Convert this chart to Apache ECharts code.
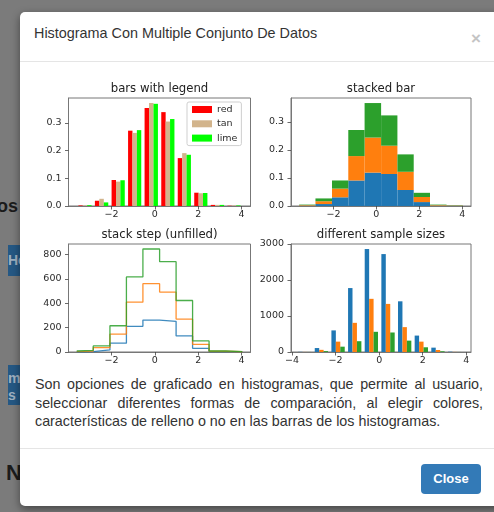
<!DOCTYPE html>
<html>
<head>
<meta charset="utf-8">
<script src="https://cdn.jsdelivr.net/npm/echarts@6/dist/echarts.min.js"></script>
<style>
  html, body { margin: 0; padding: 0; }
  body {
    width: 494px; height: 512px; overflow: hidden; position: relative;
    background: #7b7b7b;
    font-family: "Liberation Sans", Arial, sans-serif;
  }
  .page { position: absolute; }
  .modal {
    position: absolute; left: 20px; top: 12px; width: 490px; height: 494px;
    background: #fff; border-radius: 5px;
    box-shadow: 0 3px 9px rgba(0,0,0,0.45);
  }
  .modal-title {
    position: absolute; left: 34px; top: 24px;
    font-size: 14.4px; line-height: 18px; color: #333;
  }
  .close-x {
    position: absolute; left: 471px; top: 30px;
    font-size: 17px; font-weight: bold; line-height: 18px; color: #c4c4c4;
  }
  .rule { position: absolute; left: 20px; width: 474px; height: 1px; background: #e5e5e5; }
  #fig { position: absolute; left: 20px; top: 62px; width: 474px; height: 306px; }
  .desc {
    position: absolute; left: 35px; top: 375px; width: 448px;
    font-size: 14.3px; line-height: 18.5px; color: #333; text-align: justify;
  }
  .btn {
    position: absolute; left: 421px; top: 464px; width: 60px; height: 30px;
    background: #337ab7; border-radius: 4px; color: #fff;
    font-size: 13px; font-weight: bold; line-height: 30px; text-align: center;
  }
</style>
</head>
<body>
  <!-- page content behind the dimmed overlay -->
  <div class="page" style="left:-22px;top:196px;width:40px;text-align:right;font:bold 18px 'Liberation Sans';color:#1b1b1b;">os</div>
  <div class="page" style="left:8px;top:245px;width:12px;height:31px;background:#255884;overflow:hidden;">
    <div style="font:bold 14px 'Liberation Sans';color:#9fb0c0;margin-top:7px;white-space:nowrap;">Ho</div>
  </div>
  <div class="page" style="left:8px;top:365px;width:12px;height:40px;background:#255884;overflow:hidden;">
    <div style="font:bold 14px 'Liberation Sans';color:#9fb0c0;margin-top:5px;white-space:nowrap;line-height:17px;">m<br>s '</div>
  </div>
  <div class="page" style="left:6px;top:460px;font:bold 22px 'Liberation Sans';color:#1b1b1b;">N</div>

  <div class="modal"></div>
  <div class="modal-title">Histograma Con Multiple Conjunto De Datos</div>
  <div class="close-x">×</div>
  <div class="rule" style="top:61px;"></div>
  <div id="fig"></div>
  <div class="desc">Son opciones de graficado en histogramas, que permite al usuario, seleccionar diferentes formas de comparación, al elegir colores, características de relleno o no en las barras de los histogramas.</div>
  <div class="rule" style="top:448px;"></div>
  <div class="btn">Close</div>

<script>
// Shared bin edges for the three 1000x3 sample panels
const binEdges = [-3.60, -2.84, -2.07, -1.31, -0.55, 0.22, 0.98, 1.74, 2.50, 3.27, 4.03];
// Bin edges for the mixed sample-size panel
const multiEdges = [-3.80, -3.035, -2.27, -1.505, -0.74, 0.025, 0.79, 1.555, 2.32, 3.085, 3.85];

// bars with legend (density per dataset)
const legendNames = ['red', 'tan', 'lime'];
const legendColors = ['#ff0000', '#d2b48c', '#00ff00'];
const redDensity  = [0.002, 0.019, 0.094, 0.272, 0.354, 0.339, 0.173, 0.048, 0.004, 0.001];
const tanDensity  = [0.002, 0.026, 0.088, 0.264, 0.372, 0.305, 0.191, 0.046, 0.004, 0.002];
const limeDensity = [0.003, 0.013, 0.093, 0.274, 0.369, 0.314, 0.185, 0.047, 0.004, 0.002];

// stacked bar (density of the stacked total)
const stackBlue   = [0.001, 0.007, 0.031, 0.091, 0.119, 0.114, 0.057, 0.014, 0.001, 0.0005];
const stackOrange = [0.002, 0.010, 0.031, 0.087, 0.125, 0.101, 0.065, 0.018, 0.002, 0.001];
const stackGreen  = [0.002, 0.010, 0.029, 0.093, 0.123, 0.108, 0.062, 0.015, 0.002, 0.001];

// stack step (unfilled), counts per dataset
const stepBlue   = [3, 17, 72, 210, 262, 251, 132, 30, 3, 1];
const stepOrange = [5, 19, 74, 198, 298, 240, 138, 33, 3, 1];
const stepGreen  = [6, 14, 69, 207, 284, 249, 152, 28, 2, 1];

// different sample sizes (10000, 5000, 2000 samples), counts
const sizeBlue   = [5, 110, 600, 1776, 2860, 2720, 1408, 456, 121, 9];
const sizeOrange = [2, 60, 288, 810, 1477, 1336, 691, 288, 56, 3];
const sizeGreen  = [1, 25, 148, 300, 561, 542, 316, 131, 20, 1];

// tick labels
const xTicks = [-2, 0, 2, 4];
const xTicksWide = [-4, -2, 0, 2, 4];
const densityTicks = [0, 0.1, 0.2, 0.3];
const stepTicks = [0, 200, 400, 600, 800];
const sizeTicks = [0, 1000, 2000, 3000];

const C0 = '#1f77b4', C1 = '#ff7f0e', C2 = '#2ca02c';
const FONT = 'DejaVu Sans';
const TXT = '#2b2b2b';

const grids = [
  { left: 48.5, top: 36, width: 182, height: 108 },
  { left: 271, top: 36, width: 180, height: 108 },
  { left: 48.5, top: 182, width: 182, height: 108 },
  { left: 271, top: 182, width: 180, height: 108 }
].map(g => Object.assign(g, { show: true, borderColor: '#777', borderWidth: 1, backgroundColor: 'transparent' }));

const minus = v => (v < 0 ? '\u2212' + Math.abs(v) : String(v));

function xAxis(gridIndex, min, max, ticks) {
  return {
    type: 'value', gridIndex, min, max,
    axisLine: { show: true, onZero: false, lineStyle: { color: '#777', width: 1 } },
    splitLine: { show: false },
    axisTick: { show: true, customValues: ticks, length: 3.5, lineStyle: { color: '#444', width: 0.8 } },
    axisLabel: { customValues: ticks, margin: 4, fontSize: 9.5, fontFamily: FONT, color: TXT, formatter: minus }
  };
}
function yAxis(gridIndex, min, max, ticks, fmt) {
  return {
    type: 'value', gridIndex, min, max,
    axisLine: { show: true, onZero: false, lineStyle: { color: '#777', width: 1 } },
    splitLine: { show: false },
    axisTick: { show: true, customValues: ticks, length: 3.5, lineStyle: { color: '#444', width: 0.8 } },
    axisLabel: { customValues: ticks, margin: 7, fontSize: 9.5, fontFamily: FONT, color: TXT, formatter: fmt }
  };
}

// side-by-side bars: dataset k of n inside each bin, 80% of the bin width in total
function groupedBars(k, n) {
  return function (params, api) {
    const x0 = api.value(0), x1 = api.value(1), h = api.value(2);
    const bw = (x1 - x0) * 0.8 / n;
    const left = (x0 + x1) / 2 - (x1 - x0) * 0.4 + k * bw;
    const p0 = api.coord([left, h]);
    const p1 = api.coord([left + bw, 0]);
    return { type: 'rect', shape: { x: p0[0], y: p0[1], width: p1[0] - p0[0], height: p1[1] - p0[1] }, style: { fill: api.visual('color') } };
  };
}
function stackedBars(params, api) {
  const p0 = api.coord([api.value(0), api.value(3)]);
  const p1 = api.coord([api.value(1), api.value(2)]);
  return { type: 'rect', shape: { x: p0[0], y: p0[1], width: p1[0] - p0[0], height: p1[1] - p0[1] }, style: { fill: api.visual('color') } };
}

const binData = (edges, vals) => vals.map((v, i) => [edges[i], edges[i + 1], v]);
function stackData(edges, lower, vals) {
  return vals.map((v, i) => [edges[i], edges[i + 1], lower[i], lower[i] + v]);
}
const addArr = (a, b) => a.map((v, i) => v + b[i]);

// outline of a stacked step histogram: from the lower stack up, along the tops, back down
function stepOutline(edges, lower, upper) {
  const pts = [[edges[0], lower[0]]];
  upper.forEach((v, i) => { pts.push([edges[i], v]); pts.push([edges[i + 1], v]); });
  pts.push([edges[edges.length - 1], lower[lower.length - 1]]);
  return pts;
}

function custom(name, xi, color, render, data) {
  return { type: 'custom', name, xAxisIndex: xi, yAxisIndex: xi, renderItem: render, data,
           itemStyle: { color }, encode: { x: [0, 1], y: data[0].length - 1 }, clip: true, silent: true };
}

const zeros = binEdges.slice(1).map(() => 0);
const s2Orange = addArr(stackBlue, zeros);
const s2Green = addArr(s2Orange, stackOrange);
const stepCumBlue = stepBlue.slice();
const stepCumOrange = addArr(stepCumBlue, stepOrange);
const stepCumGreen = addArr(stepCumOrange, stepGreen);

const series = [
  custom(legendNames[0], 0, legendColors[0], groupedBars(0, 3), binData(binEdges, redDensity)),
  custom(legendNames[1], 0, legendColors[1], groupedBars(1, 3), binData(binEdges, tanDensity)),
  custom(legendNames[2], 0, legendColors[2], groupedBars(2, 3), binData(binEdges, limeDensity)),

  custom('s1', 1, C0, stackedBars, stackData(binEdges, zeros, stackBlue)),
  custom('s2', 1, C1, stackedBars, stackData(binEdges, s2Orange, stackOrange)),
  custom('s3', 1, C2, stackedBars, stackData(binEdges, s2Green, stackGreen)),

  ...[[zeros, stepCumBlue, C0], [stepCumBlue, stepCumOrange, C1], [stepCumOrange, stepCumGreen, C2]].map(([lo, hi, c], k) => ({
    type: 'line', name: 'step' + k, xAxisIndex: 2, yAxisIndex: 2, data: stepOutline(binEdges, lo, hi),
    symbol: 'none', silent: true, lineStyle: { color: c, width: 1.3, opacity: 0.85 }
  })),

  custom('n1', 3, C0, groupedBars(0, 3), binData(multiEdges, sizeBlue)),
  custom('n2', 3, C1, groupedBars(1, 3), binData(multiEdges, sizeOrange)),
  custom('n3', 3, C2, groupedBars(2, 3), binData(multiEdges, sizeGreen))
];

const titles = [
  ['bars with legend', 139.5, 27],
  ['stacked bar', 361, 27],
  ['stack step (unfilled)', 139.5, 173],
  ['different sample sizes', 361, 173]
];

const option = {
  animation: false,
  grid: grids,
  xAxis: [
    xAxis(0, -3.98, 4.41, xTicks),
    xAxis(1, -3.98, 4.41, xTicks),
    xAxis(2, -3.98, 4.41, xTicks),
    xAxis(3, -4.05, 4.22, xTicksWide)
  ],
  yAxis: [
    yAxis(0, 0, 0.39, densityTicks, v => v.toFixed(1)),
    yAxis(1, 0, 0.385, densityTicks, v => v.toFixed(1)),
    yAxis(2, 0, 885, stepTicks, v => String(v)),
    yAxis(3, 0, 3000, sizeTicks, v => String(v))
  ],
  legend: {
    data: legendNames.map((n, i) => ({ name: n, icon: 'rect', itemStyle: { color: legendColors[i] } })),
    orient: 'vertical', left: 167, top: 40,
    itemWidth: 20, itemHeight: 7, itemGap: 3.3,
    padding: [2, 4, 2, 5],
    borderColor: '#cfcfcf', borderWidth: 1, borderRadius: 2,
    backgroundColor: 'rgba(255,255,255,0.8)',
    selectedMode: false,
    textStyle: { fontFamily: FONT, fontSize: 9.5, color: TXT, lineHeight: 11 }
  },
  graphic: titles.map(([t, x, y]) => ({
    type: 'text', x, y, silent: true,
    style: { text: t, fontFamily: FONT, fontSize: 11.7, fill: '#222', align: 'center', verticalAlign: 'middle' }
  })),
  series
};

const chart = echarts.init(document.getElementById('fig'));
chart.setOption(option);
</script>
</body>
</html>
